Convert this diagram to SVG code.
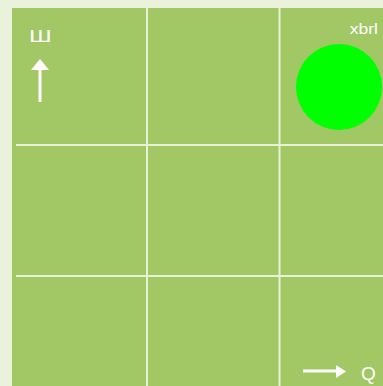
<svg xmlns="http://www.w3.org/2000/svg" width="383" height="386" viewBox="0 0 383 386">
<style>
.grid{stroke:#e8f0d8;stroke-width:2;fill:none}
.lbl{fill:#ffffff;font-family:"Liberation Sans",Arial,sans-serif}
.arr{stroke:#ffffff;stroke-width:3;fill:none}
.head{fill:#ffffff}
</style>
<rect x="0" y="0" width="383" height="386" fill="#eaf2dc"/>
<rect x="12" y="8" width="371" height="378" fill="#a1c865"/>
<g id="grid" class="grid">
<line x1="147" y1="8" x2="147" y2="386"/>
<line x1="279.5" y1="8" x2="279.5" y2="386"/>
<line x1="16" y1="145" x2="383" y2="145"/>
<line x1="16" y1="276" x2="383" y2="276"/>
</g>
<g id="node-circle">
<circle cx="339" cy="87" r="43" fill="#00ff00"/>
<text class="lbl" x="378" y="34" font-size="14" text-anchor="end" transform="translate(378 34) scale(1.25 1) translate(-378 -34)">xbrl</text>
</g>
<g id="connectors">
<g id="arrow-up">
<line class="arr" x1="40" y1="102" x2="40" y2="68"/>
<polygon class="head" points="31,70 49,70 40,59"/>
<text class="lbl" x="0" y="0" font-size="16" transform="translate(29 42) scale(1.55 1)">Ш</text>
</g>
<g id="arrow-right">
<line class="arr" x1="303" y1="371" x2="338" y2="371"/>
<polygon class="head" points="336,365 336,378 346,371.5"/>
<text class="lbl" x="361" y="380" font-size="19">Q</text>
</g>
</g>
</svg>
